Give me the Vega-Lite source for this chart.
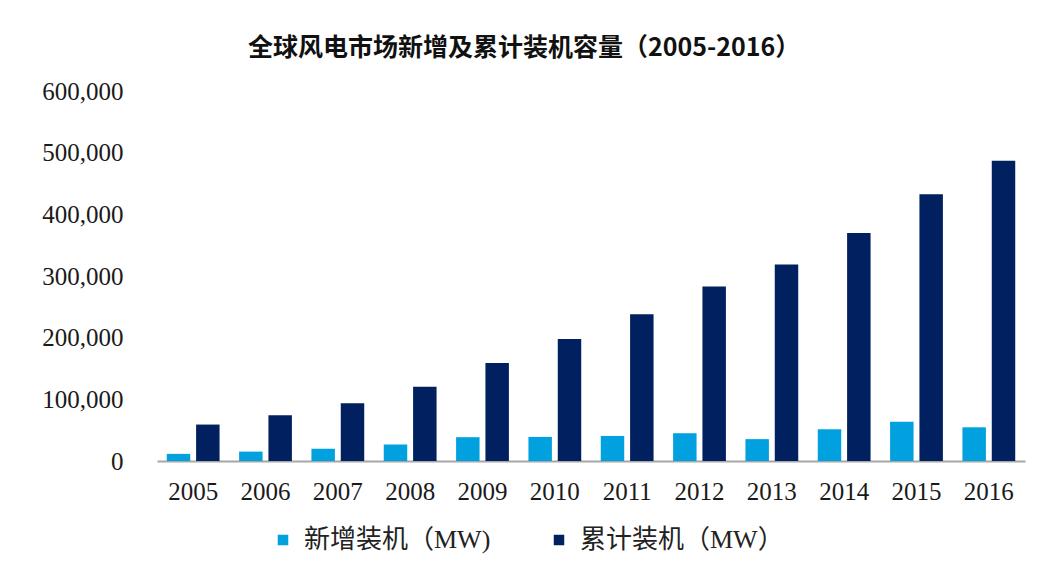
{
  "$schema": "https://vega.github.io/schema/vega-lite/v6.json",
  "width": 868,
  "height": 370,
  "autosize": "none",
  "padding": {"left": 157, "top": 91, "right": 16, "bottom": 109},
  "background": "white",
  "title": {
    "text": "全球风电市场新增及累计装机容量（2005-2016）",
    "font": "Noto Sans CJK SC",
    "fontSize": 25,
    "fontWeight": "bold",
    "color": "#111111",
    "anchor": "middle",
    "dx": -67,
    "offset": 18
  },
  "data": {
    "values": [
      {"year": "2005", "series": "新增装机（MW)", "value": 11531},
      {"year": "2006", "series": "新增装机（MW)", "value": 15245},
      {"year": "2007", "series": "新增装机（MW)", "value": 19866},
      {"year": "2008", "series": "新增装机（MW)", "value": 26560},
      {"year": "2009", "series": "新增装机（MW)", "value": 38610},
      {"year": "2010", "series": "新增装机（MW)", "value": 39059},
      {"year": "2011", "series": "新增装机（MW)", "value": 40635},
      {"year": "2012", "series": "新增装机（MW)", "value": 45030},
      {"year": "2013", "series": "新增装机（MW)", "value": 35467},
      {"year": "2014", "series": "新增装机（MW)", "value": 51477},
      {"year": "2015", "series": "新增装机（MW)", "value": 63633},
      {"year": "2016", "series": "新增装机（MW)", "value": 54642},
      {"year": "2005", "series": "累计装机（MW）", "value": 59091},
      {"year": "2006", "series": "累计装机（MW）", "value": 74052},
      {"year": "2007", "series": "累计装机（MW）", "value": 93820},
      {"year": "2008", "series": "累计装机（MW）", "value": 120291},
      {"year": "2009", "series": "累计装机（MW）", "value": 158864},
      {"year": "2010", "series": "累计装机（MW）", "value": 197637},
      {"year": "2011", "series": "累计装机（MW）", "value": 238035},
      {"year": "2012", "series": "累计装机（MW）", "value": 283048},
      {"year": "2013", "series": "累计装机（MW）", "value": 318697},
      {"year": "2014", "series": "累计装机（MW）", "value": 369862},
      {"year": "2015", "series": "累计装机（MW）", "value": 432680},
      {"year": "2016", "series": "累计装机（MW）", "value": 486749}
    ]
  },
  "mark": {"type": "bar"},
  "encoding": {
    "x": {
      "field": "year",
      "type": "nominal",
      "scale": {"paddingInner": 0.27, "paddingOuter": 0.135},
      "axis": {
        "title": null,
        "labelAngle": 0,
        "labelFont": "Liberation Serif",
        "labelFontSize": 25,
        "labelColor": "#1a1a1a",
        "labelPadding": 18,
        "ticks": false,
        "domainColor": "#a6a6a6",
        "domainWidth": 2
      }
    },
    "xOffset": {
      "field": "series",
      "type": "nominal",
      "sort": ["新增装机（MW)", "累计装机（MW）"],
      "scale": {"paddingInner": 0.2, "paddingOuter": 0}
    },
    "y": {
      "field": "value",
      "type": "quantitative",
      "scale": {"domain": [0, 600000], "nice": false},
      "axis": {
        "title": null,
        "values": [0, 100000, 200000, 300000, 400000, 500000, 600000],
        "format": ",.0f",
        "grid": false,
        "domain": false,
        "ticks": false,
        "labelFont": "Liberation Serif",
        "labelFontSize": 25,
        "labelColor": "#1a1a1a",
        "labelPadding": 34
      }
    },
    "color": {
      "field": "series",
      "type": "nominal",
      "sort": ["新增装机（MW)", "累计装机（MW）"],
      "scale": {"range": ["#00A1DE", "#002060"]},
      "legend": {
        "title": null,
        "orient": "none",
        "direction": "horizontal",
        "legendX": 113,
        "legendY": 436,
        "symbolType": "square",
        "symbolSize": 110,
        "symbolStrokeWidth": 0,
        "labelFont": "Liberation Serif, Noto Sans CJK SC",
        "labelFontSize": 26,
        "labelColor": "#222222",
        "labelLimit": 400,
        "labelOffset": 8,
        "columnPadding": 55
      }
    }
  },
  "config": {"view": {"stroke": null}}
}
